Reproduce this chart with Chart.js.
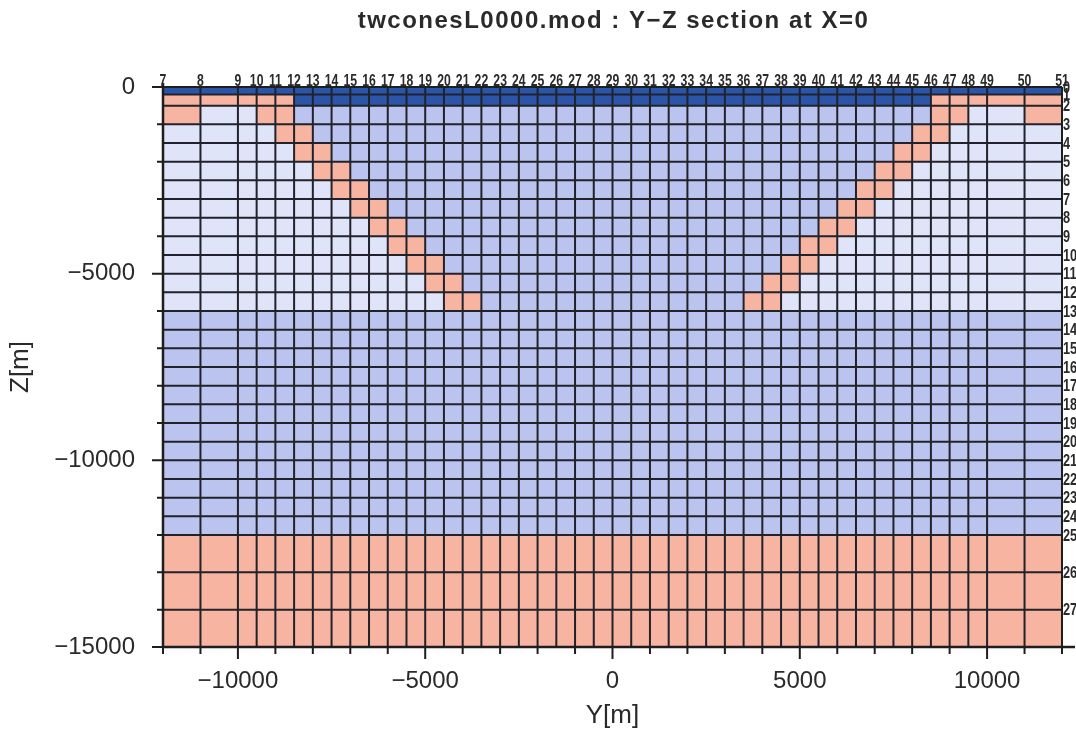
<!DOCTYPE html>
<html>
<head>
<meta charset="utf-8">
<script src="https://cdn.jsdelivr.net/npm/chart.js@4.4.1/dist/chart.umd.min.js"></script>
<style>
html,body{margin:0;padding:0;background:#ffffff;}
#wrap{width:1076px;height:733px;}
</style>
</head>
<body>
<div id="wrap"><canvas id="c" width="1076" height="733"></canvas></div>
<script>
// ---------- DATA ----------
const chartTitle = 'twconesL0000.mod : Y\u2212Z section at X=0';
const xTitle = 'Y[m]';
const yTitle = 'Z[m]';

// cell boundaries along Y (horizontal) and their block numbers
const colEdges = [-12000,-11000,-10000,-9500,-9000,-8500,-8000,-7500,-7000,-6500,-6000,-5500,-5000,-4500,-4000,-3500,-3000,-2500,-2000,-1500,-1000,-500,0,500,1000,1500,2000,2500,3000,3500,4000,4500,5000,5500,6000,6500,7000,7500,8000,8500,9000,9500,10000,11000,12000];
const colLabels = ['7','8','9','10','11','12','13','14','15','16','17','18','19','20','21','22','23','24','25','26','27','28','29','30','31','32','33','34','35','36','37','38','39','40','41','42','43','44','45','46','47','48','49','50','51'];

// cell boundaries along Z (vertical) and their block numbers
const rowEdges = [0,-200,-500,-1000,-1500,-2000,-2500,-3000,-3500,-4000,-4500,-5000,-5500,-6000,-6500,-7000,-7500,-8000,-8500,-9000,-9500,-10000,-10500,-11000,-11500,-12000,-13000,-14000,-15000];
const rowLabels = ['0','1','2','3','4','5','6','7','8','9','10','11','12','13','14','15','16','17','18','19','20','21','22','23','24','25','26','27',''];

// material of every cell, one string per row (top to bottom), one letter per column
// D = dark blue, S = salmon, L = light blue, M = medium blue
const cellRows = [
  'DDDDDDDDDD DDDDDDDDDD DDDDDDDDDD DDDDDDDDDD DDDD',
  'SSSSS DDDDDDDDDD DDDDDDDDDD DDDDDDDDDD DDDD SSSSS',
  'SLLSS MMMMMMMMMM MMMMMMMMMM MMMMMMMMMM MMMM SSLLS',
  'LLLL SS MMMMMMMMMM MMMMMMMMMM MMMMMMMMMM MM SS LLLL',
  'LLLLL SS MMMMMMMMMM MMMMMMMMMM MMMMMMMMMM SS LLLLL',
  'LLLLLL SS MMMMMMMMMM MMMMMMMMMM MMMMMMMM SS LLLLLL',
  'LLLLLLL SS MMMMMMMMMM MMMMMMMMMM MMMMMM SS LLLLLLL',
  'LLLLLLLL SS MMMMMMMMMM MMMMMMMMMM MMMM SS LLLLLLLL',
  'LLLLLLLLL SS MMMMMMMMMM MMMMMMMMMM MM SS LLLLLLLLL',
  'LLLLLLLLLL SS MMMMMMMMMM MMMMMMMMMM SS LLLLLLLLLL',
  'LLLLLLLLLL L SS MMMMMMMMMM MMMMMMMM SS L LLLLLLLLLL',
  'LLLLLLLLLL LL SS MMMMMMMMMM MMMMMM SS LL LLLLLLLLLL',
  'LLLLLLLLLL LLL SS MMMMMMMMMM MMMM SS LLL LLLLLLLLLL',
  'MMMMMMMMMM MMMMMMMMMM MMMMMMMMMM MMMMMMMMMM MMMM',
  'MMMMMMMMMM MMMMMMMMMM MMMMMMMMMM MMMMMMMMMM MMMM',
  'MMMMMMMMMM MMMMMMMMMM MMMMMMMMMM MMMMMMMMMM MMMM',
  'MMMMMMMMMM MMMMMMMMMM MMMMMMMMMM MMMMMMMMMM MMMM',
  'MMMMMMMMMM MMMMMMMMMM MMMMMMMMMM MMMMMMMMMM MMMM',
  'MMMMMMMMMM MMMMMMMMMM MMMMMMMMMM MMMMMMMMMM MMMM',
  'MMMMMMMMMM MMMMMMMMMM MMMMMMMMMM MMMMMMMMMM MMMM',
  'MMMMMMMMMM MMMMMMMMMM MMMMMMMMMM MMMMMMMMMM MMMM',
  'MMMMMMMMMM MMMMMMMMMM MMMMMMMMMM MMMMMMMMMM MMMM',
  'MMMMMMMMMM MMMMMMMMMM MMMMMMMMMM MMMMMMMMMM MMMM',
  'MMMMMMMMMM MMMMMMMMMM MMMMMMMMMM MMMMMMMMMM MMMM',
  'MMMMMMMMMM MMMMMMMMMM MMMMMMMMMM MMMMMMMMMM MMMM',
  'SSSSSSSSSS SSSSSSSSSS SSSSSSSSSS SSSSSSSSSS SSSS',
  'SSSSSSSSSS SSSSSSSSSS SSSSSSSSSS SSSSSSSSSS SSSS',
  'SSSSSSSSSS SSSSSSSSSS SSSSSSSSSS SSSSSSSSSS SSSS'
];

// axis tick values
const xLabelTicks = [-10000,-5000,0,5000,10000];
const xTickMarks = [-12000,-11000,-10000,-9000,-8000,-7000,-6000,-5000,-4000,-3000,-2000,-1000,0,1000,2000,3000,4000,5000,6000,7000,8000,9000,10000,11000,12000];
const yLabelTicks = [0,-5000,-10000,-15000];
const yTickMarks = [0,-1000,-2000,-3000,-4000,-5000,-6000,-7000,-8000,-9000,-10000,-11000,-12000,-13000,-14000,-15000];

// ---------- STYLE ----------
const materialColors = { D: '#2a55a8', S: '#f7b4a1', L: '#dfe4f8', M: '#bbc4ef' };
const gridColor = '#22222a';
const textColor = '#2a2a2a';
const fontFamily = '"Liberation Sans", Arial, Helvetica, sans-serif';

const cells = cellRows.map(r => r.replace(/ /g, ''));
cells.forEach((r, i) => { if (r.length !== colEdges.length - 1) throw new Error('row ' + i + ' has ' + r.length + ' cells'); });
if (cells.length !== rowEdges.length - 1) throw new Error('row count ' + cells.length);

function fmtNum(v) { return v < 0 ? '\u2212' + Math.abs(v) : String(v); }

const cellPlugin = {
  id: 'cellGrid',
  beforeDatasetsDraw(chart) {
    const { ctx, scales: { x, y } } = chart;
    ctx.save();
    cells.forEach((row, r) => {
      const y0 = y.getPixelForValue(rowEdges[r]);
      const y1 = y.getPixelForValue(rowEdges[r + 1]);
      for (let c = 0; c < row.length; c++) {
        const x0 = x.getPixelForValue(colEdges[c]);
        const x1 = x.getPixelForValue(colEdges[c + 1]);
        ctx.fillStyle = materialColors[row[c]];
        ctx.fillRect(x0, y0, x1 - x0 + 0.5, y1 - y0 + 0.5);
      }
    });
    const top = y.getPixelForValue(rowEdges[0]);
    const bot = y.getPixelForValue(rowEdges[rowEdges.length - 1]);
    const left = x.getPixelForValue(colEdges[0]);
    const right = x.getPixelForValue(colEdges[colEdges.length - 1]);
    ctx.strokeStyle = gridColor;
    ctx.lineWidth = 2;
    ctx.beginPath();
    colEdges.forEach(v => { const px = x.getPixelForValue(v); ctx.moveTo(px, top); ctx.lineTo(px, bot); });
    rowEdges.forEach(v => { const py = y.getPixelForValue(v); ctx.moveTo(left, py); ctx.lineTo(right, py); });
    ctx.stroke();
    ctx.restore();
  },
  afterDraw(chart) {
    const { ctx, chartArea: a, scales: { x, y } } = chart;
    ctx.save();
    // spines
    ctx.strokeStyle = '#1e1e1e';
    ctx.lineWidth = 2.5;
    ctx.beginPath();
    ctx.moveTo(a.left, a.top - 4); ctx.lineTo(a.left, a.bottom);
    ctx.moveTo(a.left - 1, a.bottom); ctx.lineTo(a.right + 13, a.bottom);
    ctx.stroke();
    ctx.lineWidth = 2;
    ctx.beginPath();
    ctx.moveTo(a.right, a.top); ctx.lineTo(a.right, a.bottom);
    ctx.moveTo(a.left, a.top); ctx.lineTo(a.right, a.top);
    ctx.stroke();
    // tick marks
    ctx.lineWidth = 2;
    ctx.beginPath();
    xTickMarks.forEach(v => {
      const px = x.getPixelForValue(v);
      const len = (v % 5000 === 0) ? 12 : 7;
      ctx.moveTo(px, a.bottom); ctx.lineTo(px, a.bottom + len);
    });
    yTickMarks.forEach(v => {
      const py = y.getPixelForValue(v);
      const len = (v % 5000 === 0) ? 11 : 6;
      ctx.moveTo(a.left, py); ctx.lineTo(a.left - len, py);
    });
    ctx.stroke();
    // block numbers along the top
    ctx.fillStyle = textColor;
    ctx.font = 'bold 17px ' + fontFamily;
    ctx.textAlign = 'center';
    ctx.textBaseline = 'alphabetic';
    colEdges.forEach((v, i) => {
      const px = x.getPixelForValue(v);
      ctx.save();
      ctx.translate(px, a.top - 1);
      ctx.scale(0.72, 1);
      ctx.fillText(colLabels[i], 0, 0);
      ctx.restore();
    });
    // block numbers along the right side
    ctx.textAlign = 'left';
    ctx.textBaseline = 'middle';
    rowEdges.forEach((v, i) => {
      if (!rowLabels[i]) return;
      const py = y.getPixelForValue(v);
      ctx.save();
      ctx.translate(a.right + 1, py + 1);
      ctx.scale(0.75, 1);
      ctx.fillText(rowLabels[i], 0, 0);
      ctx.restore();
    });
    // title
    ctx.font = 'bold 24px ' + fontFamily;
    ctx.textAlign = 'center';
    ctx.textBaseline = 'alphabetic';
    ctx.fillStyle = textColor;
    try { ctx.letterSpacing = '1.5px'; } catch (e) {}
    ctx.fillText(chartTitle, (a.left + a.right) / 2 + 1, 28);
    ctx.restore();
  }
};

new Chart(document.getElementById('c'), {
  type: 'scatter',
  data: { datasets: [{ label: 'cells', data: [], pointRadius: 0 }] },
  options: {
    responsive: false,
    animation: false,
    devicePixelRatio: 1,
    layout: { padding: { top: 87, right: 14, left: 0, bottom: 0 } },
    plugins: {
      legend: { display: false },
      tooltip: { enabled: false },
      title: { display: false }
    },
    scales: {
      x: {
        type: 'linear', position: 'bottom', min: -12000, max: 12000,
        afterBuildTicks: s => { s.ticks = xLabelTicks.map(v => ({ value: v })); },
        afterFit: s => { s.height = 86; },
        grid: { display: false, drawTicks: false },
        border: { display: false },
        ticks: { padding: 20, autoSkip: false, maxRotation: 0, color: textColor,
                 font: { family: fontFamily, size: 24 }, callback: v => fmtNum(v) },
        title: { display: true, text: xTitle, color: textColor,
                 font: { family: fontFamily, size: 26 }, padding: { top: 0, bottom: 2 } }
      },
      y: {
        type: 'linear', position: 'left', min: -15000, max: 0,
        afterBuildTicks: s => { s.ticks = yLabelTicks.map(v => ({ value: v })); },
        afterFit: s => { s.width = 163; },
        grid: { display: false, drawTicks: false },
        border: { display: false },
        ticks: { padding: 28, autoSkip: false, color: textColor,
                 font: { family: fontFamily, size: 24 }, callback: v => fmtNum(v) },
        title: { display: true, text: yTitle, color: textColor,
                 font: { family: fontFamily, size: 26 }, padding: { top: 5, bottom: 0 } }
      }
    }
  },
  plugins: [cellPlugin]
});
</script>
</body>
</html>
